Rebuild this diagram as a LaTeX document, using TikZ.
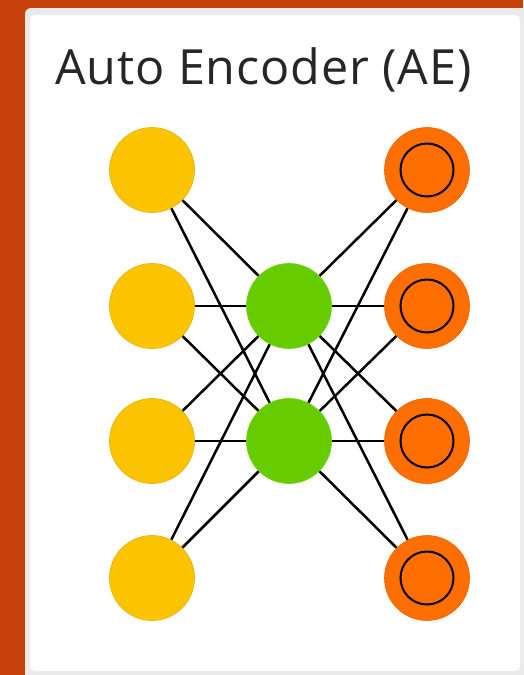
\documentclass[tikz,border=0pt]{standalone}
\usepackage{fontspec}
\setmainfont{Open Sans}
\usepackage{tikz}
\usetikzlibrary{
    backgrounds
}
\definecolor{frameorange}{RGB}{198, 64, 12}
\definecolor{panelgray}{RGB}{234, 234, 234}
\definecolor{inyellow}{RGB}{252, 196, 0}
\definecolor{hidgreen}{RGB}{102, 204, 0}
\definecolor{outorange}{RGB}{255, 110, 0}
\tikzstyle{neuron} = [
    circle,
    minimum size=85pt,
    inner sep=0pt
]
\tikzstyle{innode} = [neuron, fill=inyellow, draw=inyellow!90!black, line width=0.6pt]
\tikzstyle{hidnode} = [neuron, fill=hidgreen, draw=hidgreen!95!yellow, line width=0.6pt]
\tikzstyle{outnode} = [neuron, fill=outorange, draw=outorange!92!black, line width=0.6pt]
\tikzstyle{link} = [
    draw=black,
    line width=2.5pt
]

\begin{document}
\begin{tikzpicture}[x=1pt, y=-1pt]
    \useasboundingbox (0,0) rectangle (523,675);

    % Frame and panel
    \begin{scope}[on background layer]
        \fill[frameorange] (0,0) rectangle (523,675);
        \fill[panelgray, rounded corners=6pt] (25,8) rectangle (530,690);
        \fill[white, rounded corners=5pt] (30,15) rectangle (520,671);
    \end{scope}

    % Title
    \node[anchor=base west, inner sep=0pt, font=\fontsize{48.5}{56}\selectfont\addfontfeatures{LetterSpace=1.8}, text=black!85] (title) at (55,84) {Auto Encoder (AE)};

    % Input layer
    \node[innode] (in1) at (152,170) {};
    \node[innode] (in2) at (152,306) {};
    \node[innode] (in3) at (152,441) {};
    \node[innode] (in4) at (152,578) {};

    % Hidden layer
    \node[hidnode] (hid1) at (289,306) {};
    \node[hidnode] (hid2) at (289,441) {};

    % Output layer
    \node[outnode] (out1) at (427,170) {};
    \node[outnode] (out2) at (427,306) {};
    \node[outnode] (out3) at (427,441) {};
    \node[outnode] (out4) at (427,578) {};
    \foreach \i in {1,...,4}
        \draw[line width=2pt] (out\i) circle (26.5);

    % Links
    \begin{scope}[on background layer]
        \foreach \i in {1,...,4}
            \foreach \h in {1,2} {
                \draw[link] (in\i) -- (hid\h);
                \draw[link] (hid\h) -- (out\i);
            }
    \end{scope}
\end{tikzpicture}
\end{document}
